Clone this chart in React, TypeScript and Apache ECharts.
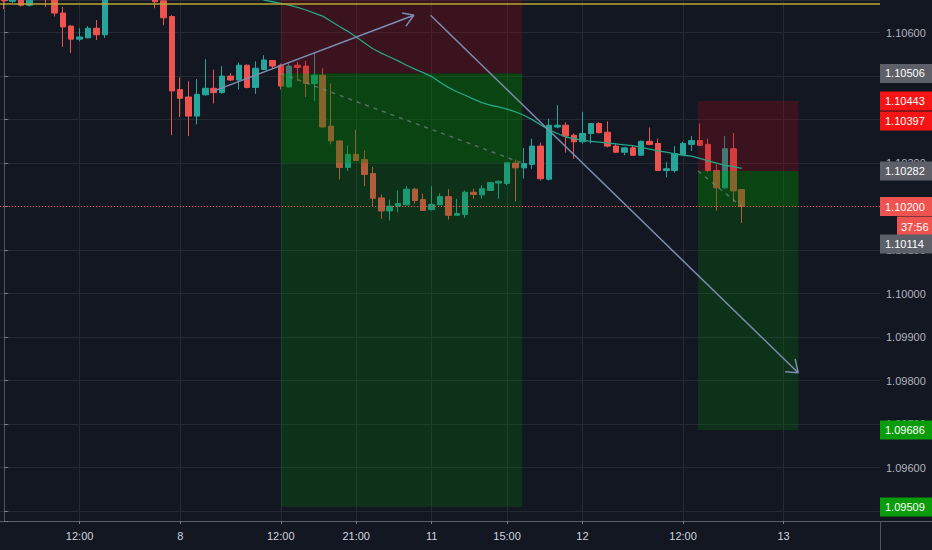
import React, { useEffect, useRef } from "react";
import * as echarts from "echarts";

// ---------- data ----------
const slotCount = 105;
const categories = Array.from({ length: slotCount }, (_, i) => String(i));

const xTickIndex = [9, 21, 33, 42, 51, 60, 69, 81, 93];
const xTickText = ["12:00", "8", "12:00", "21:00", "11", "15:00", "12", "12:00", "13"];

const yMin = 1.09477;
const yMax = 1.10675;

// [open, close, low, high]
const candles = [
  [1.1069, 1.10673, 1.10654, 1.1071],
  [1.10672, 1.1069, 1.10668, 1.107],
  [1.107, 1.10663, 1.1066, 1.1071],
  [1.10663, 1.107, 1.1066, 1.10712],
  [1.107, 1.1072, 1.1069, 1.1073],
  [1.1072, 1.10685, 1.10659, 1.10725],
  [1.10685, 1.10645, 1.10637, 1.1069],
  [1.10645, 1.10613, 1.10567, 1.10659],
  [1.10615, 1.10585, 1.10553, 1.10617],
  [1.10585, 1.1059, 1.1058, 1.1061],
  [1.10588, 1.1061, 1.10587, 1.10615],
  [1.1061, 1.10595, 1.10583, 1.10629],
  [1.10595, 1.107, 1.10588, 1.1071],
  [1.107, 1.1072, 1.1069, 1.1074],
  [1.1072, 1.10705, 1.10695, 1.10735],
  [1.10705, 1.10725, 1.107, 1.1074],
  [1.10725, 1.1071, 1.107, 1.10735],
  [1.1071, 1.10695, 1.10685, 1.1072],
  [1.10695, 1.10671, 1.10656, 1.107],
  [1.10673, 1.10634, 1.10617, 1.10678],
  [1.10637, 1.10466, 1.10364, 1.1064],
  [1.10469, 1.10449, 1.10406, 1.10497],
  [1.10452, 1.10408, 1.10362, 1.10488],
  [1.10408, 1.10458, 1.10389, 1.10493],
  [1.10457, 1.10472, 1.10455, 1.10539],
  [1.10472, 1.10462, 1.10437, 1.10515],
  [1.10462, 1.105, 1.1046, 1.10523],
  [1.105, 1.10491, 1.10489, 1.10507],
  [1.10491, 1.10525, 1.10469, 1.10531],
  [1.10525, 1.10474, 1.10472, 1.10527],
  [1.10474, 1.10518, 1.10459, 1.10534],
  [1.10515, 1.10537, 1.10514, 1.10548],
  [1.10536, 1.10523, 1.10518, 1.10537],
  [1.10525, 1.10477, 1.10469, 1.10529],
  [1.10475, 1.10523, 1.10475, 1.10529],
  [1.10525, 1.1052, 1.10489, 1.10533],
  [1.10523, 1.10483, 1.10452, 1.10535],
  [1.10483, 1.10502, 1.10443, 1.10554],
  [1.10502, 1.10383, 1.10382, 1.10518],
  [1.10385, 1.10351, 1.10343, 1.10483],
  [1.10351, 1.1029, 1.10262, 1.10352],
  [1.1029, 1.1032, 1.10282, 1.10341],
  [1.1032, 1.10306, 1.10305, 1.10377],
  [1.10308, 1.10274, 1.10247, 1.10329],
  [1.10276, 1.10219, 1.102, 1.10291],
  [1.1022, 1.1019, 1.10172, 1.10228],
  [1.1019, 1.10201, 1.10168, 1.10216],
  [1.10201, 1.10207, 1.10187, 1.10237],
  [1.10204, 1.1024, 1.10203, 1.10247],
  [1.1024, 1.10214, 1.10207, 1.10243],
  [1.10216, 1.10191, 1.1019, 1.1023],
  [1.10193, 1.10205, 1.10191, 1.10247],
  [1.10204, 1.10223, 1.10203, 1.1023],
  [1.10223, 1.1018, 1.1017, 1.1024],
  [1.1018, 1.10184, 1.1018, 1.10218],
  [1.10182, 1.10233, 1.10174, 1.10237],
  [1.10233, 1.10228, 1.10218, 1.10241],
  [1.10227, 1.10241, 1.10218, 1.10249],
  [1.10237, 1.10255, 1.10237, 1.10256],
  [1.10254, 1.10258, 1.10218, 1.1026],
  [1.10253, 1.10301, 1.10249, 1.10302],
  [1.103, 1.10289, 1.10212, 1.10308],
  [1.10289, 1.10299, 1.10264, 1.10335],
  [1.10297, 1.10339, 1.10287, 1.10356],
  [1.10339, 1.10264, 1.1026, 1.10347],
  [1.10263, 1.10387, 1.1026, 1.10402],
  [1.10383, 1.10387, 1.1038, 1.10433],
  [1.10387, 1.10362, 1.10324, 1.10394],
  [1.10364, 1.10349, 1.1031, 1.10368],
  [1.10349, 1.10368, 1.10345, 1.10418],
  [1.10368, 1.10391, 1.10345, 1.10391],
  [1.10391, 1.1037, 1.10368, 1.10394],
  [1.10371, 1.10339, 1.10336, 1.10396],
  [1.10339, 1.10325, 1.10323, 1.10345],
  [1.10325, 1.10335, 1.10318, 1.10337],
  [1.10335, 1.10318, 1.10317, 1.10339],
  [1.10318, 1.1035, 1.10318, 1.10352],
  [1.1035, 1.10343, 1.10341, 1.10382],
  [1.10345, 1.10283, 1.10283, 1.10356],
  [1.10283, 1.10287, 1.10267, 1.10302],
  [1.10283, 1.10322, 1.10278, 1.10339],
  [1.1032, 1.10345, 1.1032, 1.10349],
  [1.10343, 1.10352, 1.10328, 1.10362],
  [1.10352, 1.10341, 1.10339, 1.10391],
  [1.10343, 1.10283, 1.10279, 1.10356],
  [1.10283, 1.10243, 1.10191, 1.10297],
  [1.10243, 1.10333, 1.10241, 1.10362],
  [1.10333, 1.10236, 1.1021, 1.10369],
  [1.10239, 1.102, 1.10162, 1.10239],
];

// moving average, starting at bar 29
const maStart = 29;
const maValues = [
  1.10687, 1.10681, 1.10675, 1.10671, 1.10667, 1.10663, 1.10658, 1.10652, 1.10645, 1.10638,
  1.10626, 1.10614, 1.10603, 1.1059, 1.10576, 1.10563, 1.10553, 1.10544, 1.10535, 1.10525,
  1.10516, 1.10508, 1.10499, 1.10486, 1.10474, 1.10464, 1.10456, 1.10447, 1.10439, 1.10433,
  1.10429, 1.10424, 1.10418, 1.1041, 1.104, 1.10388, 1.10377, 1.10368, 1.1036, 1.10356,
  1.10352, 1.1035, 1.10348, 1.10346, 1.10344, 1.10342, 1.1034, 1.10336, 1.10332, 1.10328,
  1.10325, 1.10321, 1.10318, 1.10316, 1.10311, 1.10305, 1.103, 1.10295, 1.10292, 1.10288,
];

// drawings: [bar position, price]
const arrowUp = [[25.04, 1.10466], [48.88, 1.1064]];
const arrowUpHead = [[47.49, 1.10645], [48.88, 1.1064], [47.94, 1.10615]];
const arrowDown = [[50.87, 1.1064], [94.73, 1.09818]];
const arrowDownHead = [[93.18, 1.0982], [94.73, 1.09818], [94.37, 1.0985]];

// short positions: from/to bar positions, prices
const posFrom = [33.0, 82.78];
const posTo = [61.8, 94.77];
const posEntry = [1.10506, 1.10282];
const posStop = [1.10675, 1.10443];
const posTarget = [1.09509, 1.09686];
const posClose = [1.103, 1.102];
const posCloseAt = [61.8, 88.0];

const levelLine = 1.10666;
const lastPrice = 1.102;
const countdownText = "37:56";
const countdownPrice = 1.10154;

const tagPrices = [1.10506, 1.10443, 1.10397, 1.10282, 1.10114, 1.09686, 1.09509];
const tagKinds = ["neutral", "stop", "stop", "neutral", "neutral", "target", "target"];

// ---------- style ----------
const BG = "#131722";
const UP = "#26a69a";
const DOWN = "#ef5350";
const GRID = "#262a35";
const tagColors: Record<string, string> = {
  neutral: "#5d6068",
  stop: "#f71414",
  target: "#0a9c0a",
  last: "#ef5350",
};
const FONT = "Liberation Sans, Arial, sans-serif";

function tagLabel(text: string, bg: string, distance = 0, width = 42) {
  return {
    show: true,
    position: "end",
    distance,
    formatter: () => text,
    color: "#ffffff",
    backgroundColor: bg,
    fontSize: 11,
    lineHeight: 13,
    width,
    fontFamily: FONT,
    padding: [3, 5, 3, 5],
  };
}

export default function App() {
  const ref = useRef<HTMLDivElement>(null);

  useEffect(() => {
    if (!ref.current) return;
    const chart = echarts.init(ref.current, null, { renderer: "svg" });

    const tickSet = new Set(xTickIndex);
    const labelMap: Record<number, string> = {};
    xTickIndex.forEach((idx, k) => (labelMap[idx] = xTickText[k]));

    const maSeries = candles.map((_, i) =>
      i >= maStart && i - maStart < maValues.length ? maValues[i - maStart] : null
    );

    const areas: any[] = [];
    posFrom.forEach((from, k) => {
      const to = posTo[k];
      areas.push([
        { xAxis: from, yAxis: posStop[k], itemStyle: { color: "rgba(150,10,22,0.3)" } },
        { xAxis: to, yAxis: posEntry[k] },
      ]);
      areas.push([
        { xAxis: from, yAxis: posEntry[k], itemStyle: { color: "rgba(0,125,0,0.26)" } },
        { xAxis: to, yAxis: posTarget[k] },
      ]);
      areas.push([
        { xAxis: from, yAxis: posEntry[k], itemStyle: { color: "rgba(0,125,0,0.26)" } },
        { xAxis: to, yAxis: posClose[k] },
      ]);
    });

    const tagLines: any[] = [
      { yAxis: levelLine, lineStyle: { color: "#b9a730", width: 1.5, type: "solid" }, label: { show: false } },
      {
        yAxis: lastPrice,
        lineStyle: { color: "#ef5350", width: 1, type: [1, 2] },
        label: tagLabel(lastPrice.toFixed(5), tagColors.last),
      },
      {
        yAxis: countdownPrice,
        lineStyle: { color: "rgba(0,0,0,0)", width: 0 },
        label: { ...tagLabel(countdownText, tagColors.last, 17, 27), padding: [4, 4, 3, 4] },
      },
      ...tagPrices.map((p, k) => ({
        yAxis: p,
        lineStyle: { color: "rgba(0,0,0,0)", width: 0 },
        label: tagLabel(p.toFixed(5), tagColors[tagKinds[k]]),
      })),
    ];

    const drawing = (data: number[][], name: string) => ({
      name,
      type: "line",
      xAxisIndex: 1,
      data,
      z: 5,
      showSymbol: false,
      silent: true,
      lineStyle: { color: "#7d8db2", width: 1.5 },
    });

    const option: any = {
      animation: false,
      backgroundColor: BG,
      textStyle: { fontFamily: FONT },
      grid: { left: -1, right: 52, top: 0, bottom: 29, containLabel: false },
      xAxis: [
        {
          type: "category",
          data: categories,
          boundaryGap: true,
          axisLine: { show: true, lineStyle: { color: "#5d606b" } },
          axisTick: {
            show: true,
            alignWithLabel: true,
            interval: (i: number) => tickSet.has(i),
            length: 3,
            lineStyle: { color: "#787b86" },
          },
          axisLabel: {
            interval: (i: number) => tickSet.has(i),
            formatter: (_v: string, i: number) => labelMap[i] ?? "",
            color: "#d1d4dc",
            fontSize: 11,
            margin: 9,
            fontFamily: FONT,
          },
          splitLine: { show: false },
        },
        { type: "value", min: -0.5, max: slotCount - 0.5, show: false },
      ],
      yAxis: {
        type: "value",
        position: "right",
        min: yMin,
        max: yMax,
        splitNumber: 12,
        axisLine: { show: true, lineStyle: { color: "#50535e" } },
        axisTick: { show: true, length: 4, lineStyle: { color: "#787b86" } },
        axisLabel: {
          color: "#b2b5be",
          fontSize: 11,
          margin: 6,
          fontFamily: FONT,
          formatter: (v: number) =>
            Math.abs(v * 1000 - Math.round(v * 1000)) < 1e-6 ? v.toFixed(5) : "",
        },
        splitLine: { show: true, lineStyle: { color: GRID, width: 1 } },
      },
      series: [
        {
          name: "vgrid",
          type: "line",
          xAxisIndex: 1,
          data: [],
          z: 1,
          silent: true,
          markLine: {
            silent: true,
            z: 1,
            precision: 5,
            symbol: ["none", "none"],
            label: { show: false },
            lineStyle: { color: GRID, width: 1, type: "solid" },
            data: xTickIndex.map((v) => ({ xAxis: v })),
          },
        },
        {
          name: "EURUSD",
          type: "candlestick",
          data: candles,
          barWidth: 6,
          z: 2,
          itemStyle: { color: UP, color0: DOWN, borderColor: UP, borderColor0: DOWN, borderWidth: 1 },
        },
        {
          name: "positions",
          type: "line",
          xAxisIndex: 1,
          data: [],
          z: 3,
          silent: true,
          markArea: { silent: true, z: 3, data: areas },
        },
        {
          name: "MA",
          type: "line",
          data: maSeries,
          z: 4,
          showSymbol: false,
          silent: true,
          lineStyle: { color: "#22a884", width: 1.3 },
        },
        drawing(arrowUp, "a1"),
        drawing(arrowUpHead, "a1h"),
        drawing(arrowDown, "a2"),
        drawing(arrowDownHead, "a2h"),
        ...posFrom.map((from, k) => ({
          name: "pnl" + k,
          type: "line",
          xAxisIndex: 1,
          data: [
            [from, posEntry[k]],
            [posCloseAt[k], posClose[k]],
          ],
          z: 5,
          showSymbol: false,
          silent: true,
          lineStyle: { color: "rgba(140,145,155,0.55)", width: 1.5, type: [4, 5] },
        })),
        {
          name: "tags",
          type: "line",
          xAxisIndex: 1,
          data: [],
          z: 6,
          silent: true,
          markLine: {
            silent: true,
            z: 6,
            precision: 5,
            symbol: ["none", "none"],
            data: tagLines,
          },
        },
      ],
      graphic: [
        {
          type: "line",
          shape: { x1: 880, y1: 521.5, x2: 932, y2: 521.5 },
          style: { stroke: "#5d606b", lineWidth: 1 },
          silent: true,
        },
        {
          type: "line",
          shape: { x1: 880.5, y1: 521, x2: 880.5, y2: 550 },
          style: { stroke: "#50535e", lineWidth: 1 },
          silent: true,
        },
      ],
    };

    chart.setOption(option);
    return () => chart.dispose();
  }, []);

  return (
    <div
      ref={ref}
      style={{ position: "fixed", left: 0, top: 0, width: 932, height: 550, background: BG }}
    />
  );
}
